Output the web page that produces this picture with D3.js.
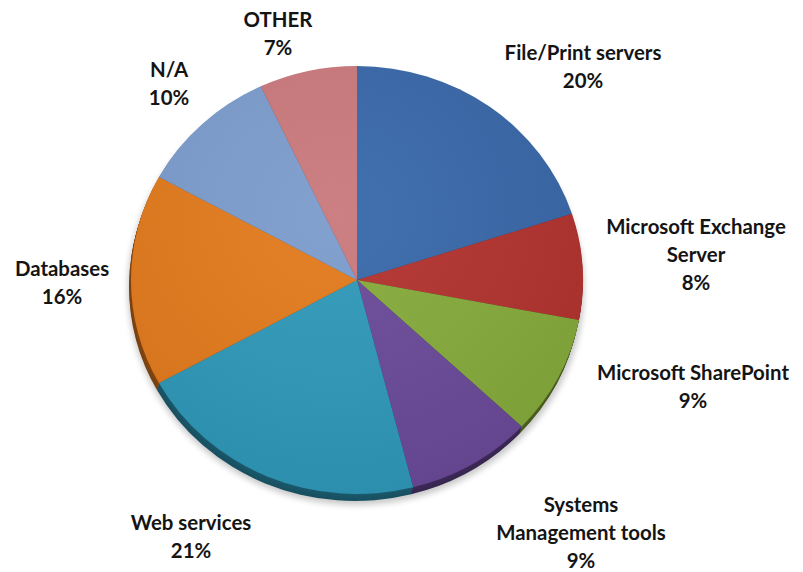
<!DOCTYPE html>
<html>
<head>
<meta charset="utf-8">
<script src="https://cdn.jsdelivr.net/npm/d3@7"></script>
<style>
  html, body { margin: 0; padding: 0; background: #ffffff; }
  svg { display: block; }
  .lbl { font-family: Lato, "Open Sans", sans-serif; font-weight: 700; font-size: 21.5px; fill: #141414; }
</style>
</head>
<body>
<svg id="chart" width="803" height="572"></svg>
<script>
// Workload categories, clockwise from 12 o'clock
const categories = ["File/Print servers", "Microsoft Exchange Server", "Microsoft SharePoint",
  "Systems Management tools", "Web services", "Databases", "N/A", "OTHER"];
const shares = [20, 8, 9, 9, 21, 16, 10, 7];
const colors = ["#3768a9", "#b2332f", "#85aa3a", "#6a4898", "#2e98b8", "#e27a1f", "#7b9ccc", "#ca797b"];
// Label text, split into lines
const labelLines = [
  ["File/Print servers"],
  ["Microsoft Exchange", "Server"],
  ["Microsoft SharePoint"],
  ["Systems", "Management tools"],
  ["Web services"],
  ["Databases"],
  ["N/A"],
  ["OTHER"]
];

const W = 803, H = 572;
const cx = 357, cy = 280;          // pie centre
const rx = 226, ry = 214;          // tilted (elliptical) top face
const depth = 7, shiftX = -2;      // visible rim thickness

const svg = d3.select("#chart");
const defs = svg.append("defs");
defs.append("filter").attr("id", "soft").attr("x", "-20%").attr("y", "-20%")
  .attr("width", "140%").attr("height", "140%")
  .append("feGaussianBlur").attr("stdDeviation", 3);
defs.append("filter").attr("id", "grain")
  .append("feGaussianBlur").attr("stdDeviation", 0.6);

const pie = d3.pie().sort(null).value(d => d)(shares);
const arc = d3.arc().innerRadius(0).outerRadius(rx);
const sy = ry / rx;

// soft drop shadow under the disc
svg.append("ellipse")
  .attr("cx", cx - 1).attr("cy", cy + depth + 2)
  .attr("rx", rx + 2).attr("ry", ry + 2)
  .attr("fill", "#000").attr("opacity", 0.22)
  .attr("filter", "url(#soft)");

// side wall: stacked, darkened copies of each slice
const side = svg.append("g");
for (let k = depth; k >= 1; k--) {
  side.append("g")
    .attr("transform", `translate(${cx + shiftX * k / depth},${cy + k}) scale(1,${sy})`)
    .selectAll("path").data(pie).join("path")
    .attr("d", arc)
    .attr("fill", (d, i) => d3.color(colors[i]).darker(1.5 + 0.3 * (k / depth)));
}

// top face
const face = svg.append("g")
  .attr("transform", `translate(${cx},${cy}) scale(1,${sy})`)
  .attr("filter", "url(#grain)");
face.selectAll("path").data(pie).join("path")
  .attr("d", arc)
  .attr("fill", (d, i) => colors[i]);

// light sheen across the face
const grad = defs.append("radialGradient").attr("id", "sheen")
  .attr("cx", "45%").attr("cy", "35%").attr("r", "70%");
grad.append("stop").attr("offset", "0%").attr("stop-color", "#fff").attr("stop-opacity", 0.05);
grad.append("stop").attr("offset", "100%").attr("stop-color", "#000").attr("stop-opacity", 0.07);
svg.append("ellipse").attr("cx", cx).attr("cy", cy).attr("rx", rx).attr("ry", ry)
  .attr("fill", "url(#sheen)");

// label anchor positions (centre x, first baseline y)
const labelPos = [
  [583, 60], [696, 234], [693, 380], [581, 512],
  [191, 530], [62, 276], [169, 77], [278, 27]
];
const lineH = 28;

const labels = svg.append("g");
pie.forEach((d, i) => {
  const lines = labelLines[i].concat([d.data + "%"]);
  const t = labels.append("text").attr("class", "lbl").attr("text-anchor", "middle")
    .attr("transform", `translate(${labelPos[i][0]},${labelPos[i][1]}) scale(0.95,1)`);
  lines.forEach((s, j) => {
    t.append("tspan").attr("x", 0).attr("y", j * lineH).text(s);
  });
});
</script>
</body>
</html>
